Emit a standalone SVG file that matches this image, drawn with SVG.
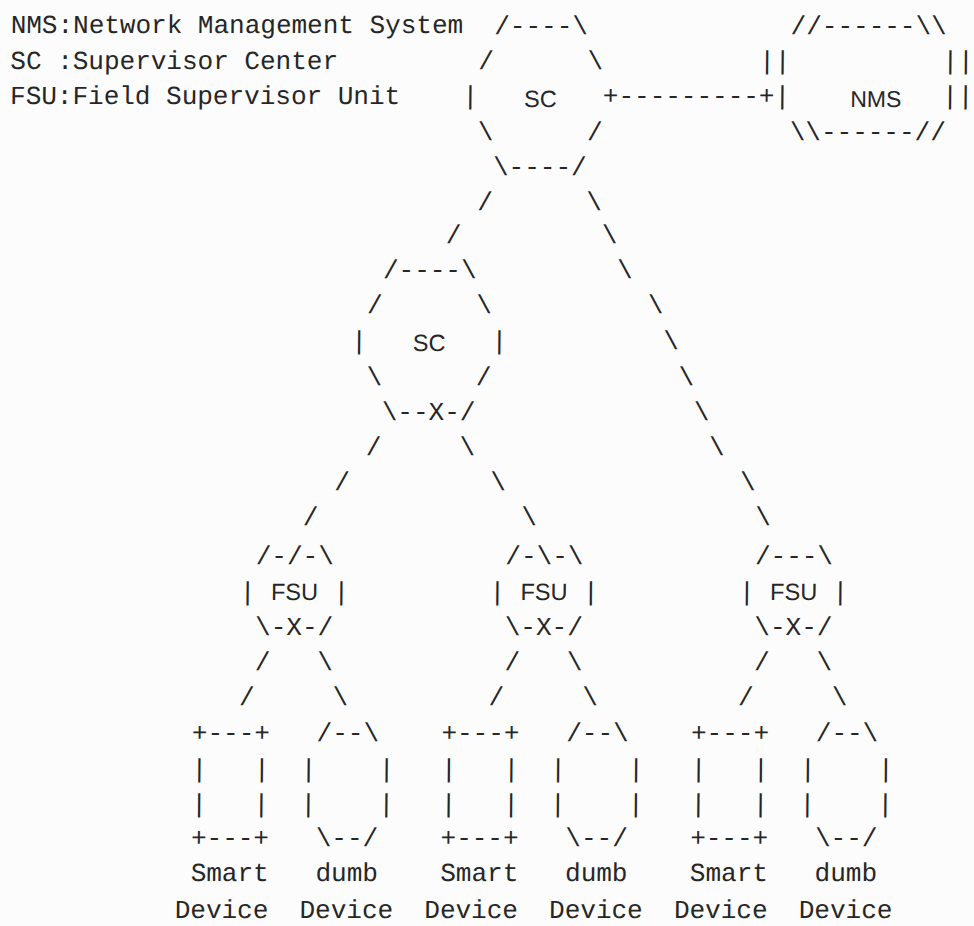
<svg xmlns="http://www.w3.org/2000/svg" width="974" height="926" viewBox="0 0 974 926">
  <style>
    .m { font-family: "Liberation Mono", "Courier New", monospace; font-size: 26px; fill: #262626; }
    .s { font-family: "Liberation Sans", Arial, sans-serif; font-size: 23.5px; fill: #262626; text-anchor: middle; }
  </style>
  <rect width="974" height="926" fill="#fcfcfc"/>
  <!-- character grid: column c starts at x = 10.5 + 15.6*c; the page is printed with a slight lean -->
  <g transform="matrix(1 0 -0.0085 1 0.425 0)">
    <g id="legend" class="m">
      <text x="10.5" y="33">NMS:Network Management System</text>
      <text x="10.5" y="69">SC :Supervisor Center</text>
      <text x="10.5" y="104">FSU:Field Supervisor Unit</text>
    </g>

    <g id="sc-top" class="m">
      <text x="494.1" y="34">/----\</text>
      <text x="478.5" y="69">/</text><text x="587.7" y="69">\</text>
      <text x="462.9" y="104">|</text>
      <text class="s" x="540.9" y="107">SC</text>
      <text x="478.5" y="140">\</text><text x="587.7" y="140">/</text>
      <text x="494.1" y="175">\----/</text>
    </g>

    <g id="nms" class="m">
      <text x="790.5" y="34">//------\\</text>
      <text x="759.3" y="69">||</text><text x="942.6" y="69">||</text>
      <text x="774.9" y="104">|</text>
      <text class="s" x="876.3" y="107" style="font-size:23px">NMS</text>
      <text x="942.6" y="104">||</text>
      <text x="790.5" y="140">\\------//</text>
    </g>

    <g id="sc-mid" class="m">
      <text x="384.9" y="278">/----\</text>
      <text x="369.3" y="313">/</text><text x="478.5" y="313">\</text>
      <text x="353.7" y="349">|</text>
      <text class="s" x="431.7" y="351">SC</text>
      <text x="494.1" y="349">|</text>
      <text x="369.3" y="385">\</text><text x="478.5" y="385">/</text>
      <text x="384.9" y="420">\--X-/</text>
    </g>

    <g id="fsu-1" class="m">
      <text x="260.1" y="564">/-/-\</text>
      <text x="244.5" y="600">|</text>
      <text class="s" x="299.1" y="600">FSU</text>
      <text x="338.1" y="600">|</text>
      <text x="260.1" y="635">\-X-/</text>
    </g>
    <g id="fsu-2" class="m">
      <text x="509.7" y="564">/-\-\</text>
      <text x="494.1" y="600">|</text>
      <text class="s" x="548.7" y="600">FSU</text>
      <text x="587.7" y="600">|</text>
      <text x="509.7" y="635">\-X-/</text>
    </g>
    <g id="fsu-3" class="m">
      <text x="759.3" y="564">/---\</text>
      <text x="743.7" y="600">|</text>
      <text class="s" x="798.3" y="600">FSU</text>
      <text x="837.3" y="600">|</text>
      <text x="759.3" y="635">\-X-/</text>
    </g>

    <g id="smart-device-1" class="m">
      <text x="197.7" y="741">+---+</text>
      <text x="197.7" y="777">|</text><text x="260.1" y="777">|</text>
      <text x="197.7" y="812">|</text><text x="260.1" y="812">|</text>
      <text x="197.7" y="846">+---+</text>
      <text x="197.7" y="881">Smart</text>
      <text x="182.1" y="918">Device</text>
    </g>
    <g id="dumb-device-1" class="m">
      <text x="322.5" y="741">/--\</text>
      <text x="306.9" y="777">|</text><text x="384.9" y="777">|</text>
      <text x="306.9" y="812">|</text><text x="384.9" y="812">|</text>
      <text x="322.5" y="846">\--/</text>
      <text x="322.5" y="881">dumb</text>
      <text x="306.9" y="918">Device</text>
    </g>
    <g id="smart-device-2" class="m">
      <text x="447.3" y="741">+---+</text>
      <text x="447.3" y="777">|</text><text x="509.7" y="777">|</text>
      <text x="447.3" y="812">|</text><text x="509.7" y="812">|</text>
      <text x="447.3" y="846">+---+</text>
      <text x="447.3" y="881">Smart</text>
      <text x="431.7" y="918">Device</text>
    </g>
    <g id="dumb-device-2" class="m">
      <text x="572.1" y="741">/--\</text>
      <text x="556.5" y="777">|</text><text x="634.5" y="777">|</text>
      <text x="556.5" y="812">|</text><text x="634.5" y="812">|</text>
      <text x="572.1" y="846">\--/</text>
      <text x="572.1" y="881">dumb</text>
      <text x="556.5" y="918">Device</text>
    </g>
    <g id="smart-device-3" class="m">
      <text x="696.9" y="741">+---+</text>
      <text x="696.9" y="777">|</text><text x="759.3" y="777">|</text>
      <text x="696.9" y="812">|</text><text x="759.3" y="812">|</text>
      <text x="696.9" y="846">+---+</text>
      <text x="696.9" y="881">Smart</text>
      <text x="681.3" y="918">Device</text>
    </g>
    <g id="dumb-device-3" class="m">
      <text x="821.7" y="741">/--\</text>
      <text x="806.1" y="777">|</text><text x="884.1" y="777">|</text>
      <text x="806.1" y="812">|</text><text x="884.1" y="812">|</text>
      <text x="821.7" y="846">\--/</text>
      <text x="821.7" y="881">dumb</text>
      <text x="806.1" y="918">Device</text>
    </g>

    <g id="connectors" class="m">
      <!-- SC to NMS -->
      <text x="603.3" y="104">+---------+</text>
      <!-- top SC down to the middle SC -->
      <text x="478.5" y="210">/</text>
      <text x="447.3" y="243">/</text>
      <!-- top SC down to the right FSU -->
      <text x="587.7" y="210">\</text>
      <text x="603.3" y="243">\</text>
      <text x="618.9" y="278">\</text>
      <text x="650.1" y="313">\</text>
      <text x="665.7" y="349">\</text>
      <text x="681.3" y="385">\</text>
      <text x="696.9" y="420">\</text>
      <text x="712.5" y="455">\</text>
      <text x="743.7" y="490">\</text>
      <text x="759.3" y="525">\</text>
      <!-- middle SC down to the left and centre FSU -->
      <text x="369.3" y="455">/</text><text x="462.9" y="455">\</text>
      <text x="338.1" y="490">/</text><text x="494.1" y="490">\</text>
      <text x="306.9" y="525">/</text><text x="525.3" y="525">\</text>
      <!-- FSUs down to their devices -->
      <text x="260.1" y="670">/</text><text x="322.5" y="670">\</text>
      <text x="244.5" y="705">/</text><text x="338.1" y="705">\</text>
      <text x="509.7" y="670">/</text><text x="572.1" y="670">\</text>
      <text x="494.1" y="705">/</text><text x="587.7" y="705">\</text>
      <text x="759.3" y="670">/</text><text x="821.7" y="670">\</text>
      <text x="743.7" y="705">/</text><text x="837.3" y="705">\</text>
    </g>
  </g>
</svg>
